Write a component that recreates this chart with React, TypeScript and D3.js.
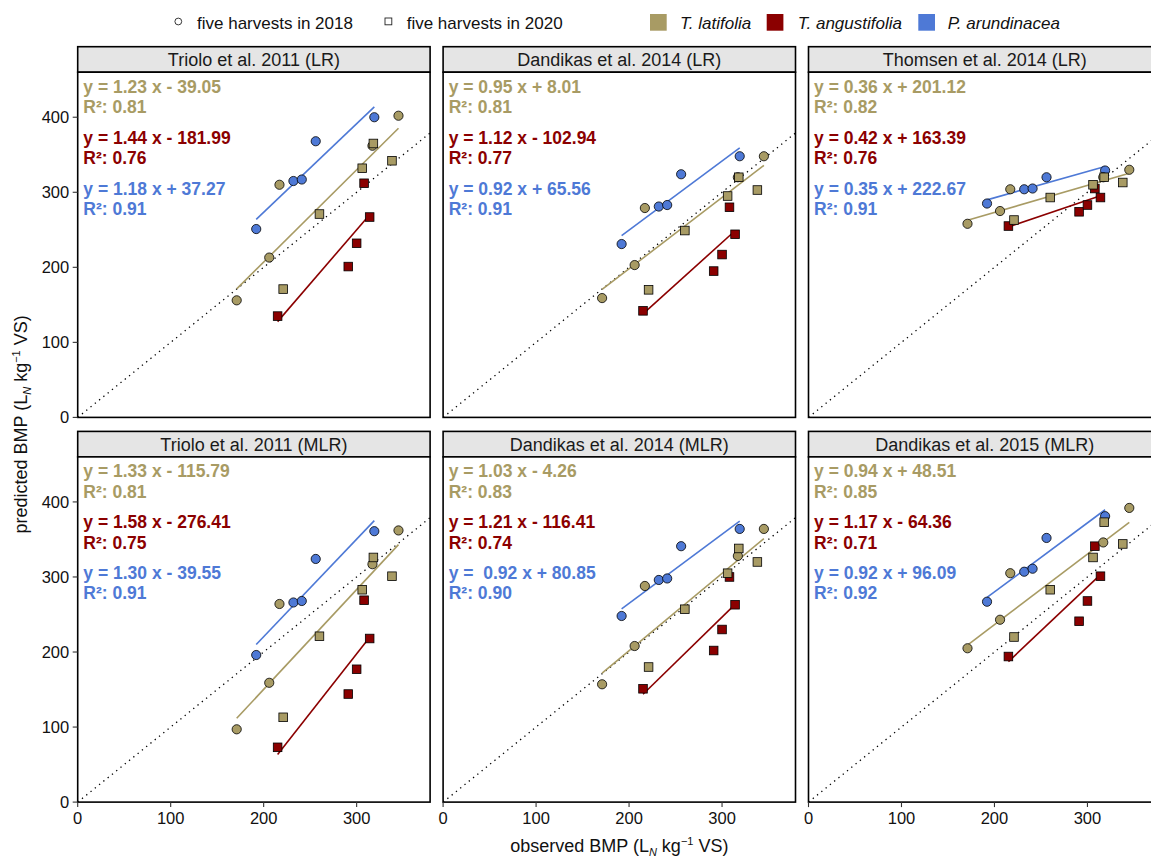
import * as d3 from "d3";

// observed BMP values, shared by all six panels
const OBS_TL_2018 = [171, 206, 217, 317, 345];
const OBS_TL_2020 = [221, 260, 306, 318, 338];
const OBS_TA_2020 = [215, 291, 300, 308, 314];
const OBS_PA_2018 = [192, 232, 241, 256, 319];

const PANEL_TITLES = [
  "Triolo et al. 2011 (LR)",
  "Dandikas et al. 2014 (LR)",
  "Thomsen et al. 2014 (LR)",
  "Triolo et al. 2011 (MLR)",
  "Dandikas et al. 2014 (MLR)",
  "Dandikas et al. 2015 (MLR)",
];

// predicted BMP, one row per panel
const PRED_TL_2018 = [
  [156, 213, 310, 362, 402],
  [159, 203, 279, 320, 348],
  [258, 275, 304, 320, 330],
  [97, 159, 264, 317, 362],
  [157, 208, 288, 328, 364],
  [205, 243, 305, 346, 392],
];
const PRED_TL_2020 = [
  [171, 271, 332, 365, 342],
  [170, 249, 295, 320, 303],
  [263, 293, 310, 320, 313],
  [113, 221, 283, 326, 301],
  [180, 257, 305, 338, 320],
  [220, 283, 326, 373, 344],
];
const PRED_TA_2020 = [
  [135, 201, 232, 312, 267],
  [142, 195, 217, 280, 244],
  [255, 274, 283, 305, 293],
  [73, 144, 177, 269, 218],
  [151, 202, 230, 300, 263],
  [194, 241, 268, 341, 301],
];
const PRED_PA_2018 = [
  [251, 315, 317, 368, 400],
  [231, 281, 283, 324, 348],
  [285, 304, 305, 320, 329],
  [196, 266, 268, 324, 361],
  [248, 296, 298, 341, 364],
  [267, 307, 311, 352, 381],
];

// regression fits [slope, intercept]
const TL_FIT = [[1.23, -39.05], [0.95, 8.01], [0.36, 201.12], [1.33, -115.79], [1.03, -4.26], [0.94, 48.51]];
const TA_FIT = [[1.44, -181.99], [1.12, -102.94], [0.42, 163.39], [1.58, -276.41], [1.21, -116.41], [1.17, -64.36]];
const PA_FIT = [[1.18, 37.27], [0.92, 65.56], [0.35, 222.67], [1.3, -39.55], [0.92, 80.85], [0.92, 96.09]];

const TL_EQ = ["y = 1.23 x - 39.05", "y = 0.95 x + 8.01", "y = 0.36 x + 201.12", "y = 1.33 x - 115.79", "y = 1.03 x - 4.26", "y = 0.94 x + 48.51"];
const TA_EQ = ["y = 1.44 x - 181.99", "y = 1.12 x - 102.94", "y = 0.42 x + 163.39", "y = 1.58 x - 276.41", "y = 1.21 x - 116.41", "y = 1.17 x - 64.36"];
const PA_EQ = ["y = 1.18 x + 37.27", "y = 0.92 x + 65.56", "y = 0.35 x + 222.67", "y = 1.30 x - 39.55", "y =  0.92 x + 80.85", "y = 0.92 x + 96.09"];
const TL_R2 = ["0.81", "0.81", "0.82", "0.81", "0.83", "0.85"];
const TA_R2 = ["0.76", "0.77", "0.76", "0.75", "0.74", "0.71"];
const PA_R2 = ["0.91", "0.91", "0.91", "0.91", "0.90", "0.92"];

const X_TICKS = [0, 100, 200, 300];
const Y_TICKS = [0, 100, 200, 300, 400];

const COL_TL = "#A89B64";
const COL_TA = "#8B0000";
const COL_PA = "#4E79D6";

const FONT = "Liberation Sans, Arial, Helvetica, sans-serif";

const W = 1151;
const H = 857;
const LEFT = 77.7;
const TOP = 46.7;
const PANEL_W = 352.4;
const PANEL_H = 345.2;
const STRIP_H = 25.5;
const GAP_X = 13;
const GAP_Y = 14;

const x = d3.scaleLinear().domain([0, 379]).range([0, PANEL_W]);
const y = d3.scaleLinear().domain([0, 460]).range([PANEL_H, 0]);

const R = 4.6;
const SQ = 8.6;

const Circles = ({ xs, ys, fill }: { xs: number[]; ys: number[]; fill: string }) => (
  <g>
    {xs.map((v, i) => (
      <circle key={i} cx={x(v)} cy={y(ys[i])} r={R} fill={fill} stroke="#000" strokeWidth={0.8} />
    ))}
  </g>
);

const Squares = ({ xs, ys, fill }: { xs: number[]; ys: number[]; fill: string }) => (
  <g>
    {xs.map((v, i) => (
      <rect
        key={i}
        x={x(v) - SQ / 2}
        y={y(ys[i]) - SQ / 2}
        width={SQ}
        height={SQ}
        fill={fill}
        stroke="#000"
        strokeWidth={0.8}
      />
    ))}
  </g>
);

const FitLine = ({ fit, xs, color }: { fit: number[]; xs: number[]; color: string }) => {
  const [lo, hi] = d3.extent(xs) as [number, number];
  const line = d3
    .line<number>()
    .x((d) => x(d))
    .y((d) => y(fit[0] * d + fit[1]));
  return <path d={line([lo, hi]) || ""} stroke={color} strokeWidth={1.6} fill="none" />;
};

const Panel = ({ i }: { i: number }) => {
  const col = i % 3;
  const row = Math.floor(i / 3);
  const px = LEFT + col * (PANEL_W + GAP_X);
  const sy = TOP + row * (STRIP_H + PANEL_H + GAP_Y);
  const py = sy + STRIP_H;
  const tlX = [...OBS_TL_2018, ...OBS_TL_2020];
  const diag = d3.line<number>().x((d) => x(d)).y((d) => y(d));

  const eqs = [
    { t: TL_EQ[i], r: TL_R2[i], c: COL_TL, dy: 20.6 },
    { t: TA_EQ[i], r: TA_R2[i], c: COL_TA, dy: 71.6 },
    { t: PA_EQ[i], r: PA_R2[i], c: COL_PA, dy: 122.4 },
  ];

  return (
    <g>
      {/* strip */}
      <rect x={px} y={sy} width={PANEL_W} height={STRIP_H} fill="#E5E5E5" stroke="#000" strokeWidth={1.6} />
      <text
        x={px + PANEL_W / 2}
        y={sy + STRIP_H / 2 + 6.5}
        textAnchor="middle"
        fontSize={18}
        fill="#1a1a1a"
      >
        {PANEL_TITLES[i]}
      </text>

      <g transform={`translate(${px},${py})`}>
        <rect x={0} y={0} width={PANEL_W} height={PANEL_H} fill="#fff" />
        <path d={diag([0, 379]) || ""} stroke="#000" strokeWidth={1.3} strokeDasharray="1.3 4.2" fill="none" />

        <FitLine fit={TL_FIT[i]} xs={tlX} color={COL_TL} />
        <FitLine fit={TA_FIT[i]} xs={OBS_TA_2020} color={COL_TA} />
        <FitLine fit={PA_FIT[i]} xs={OBS_PA_2018} color={COL_PA} />

        <Circles xs={OBS_PA_2018} ys={PRED_PA_2018[i]} fill={COL_PA} />
        <Squares xs={OBS_TA_2020} ys={PRED_TA_2020[i]} fill={COL_TA} />
        <Circles xs={OBS_TL_2018} ys={PRED_TL_2018[i]} fill={COL_TL} />
        <Squares xs={OBS_TL_2020} ys={PRED_TL_2020[i]} fill={COL_TL} />

        {eqs.map((e, k) => (
          <g key={k} fill={e.c} fontWeight="bold" fontSize={17.5}>
            <text x={5.6} y={e.dy} style={{ whiteSpace: "pre" }}>
              {e.t}
            </text>
            <text x={5.6} y={e.dy + 20.1}>{`R²: ${e.r}`}</text>
          </g>
        ))}

        <rect x={0} y={0} width={PANEL_W} height={PANEL_H} fill="none" stroke="#000" strokeWidth={1.6} />

        {/* y axis on left column */}
        {col === 0 &&
          Y_TICKS.map((t) => (
            <g key={t} transform={`translate(0,${y(t)})`}>
              <line x1={-5} x2={0} stroke="#333" strokeWidth={1.1} />
              <text x={-8.5} y={6} textAnchor="end" fontSize={16.5} fill="#111">
                {t}
              </text>
            </g>
          ))}

        {/* x axis on bottom row */}
        {row === 1 &&
          X_TICKS.map((t) => (
            <g key={t} transform={`translate(${x(t)},${PANEL_H})`}>
              <line y1={0} y2={5} stroke="#333" strokeWidth={1.1} />
              <text y={21.5} textAnchor="middle" fontSize={16.5} fill="#111">
                {t}
              </text>
            </g>
          ))}
      </g>
    </g>
  );
};

const Legend = () => {
  const species = [
    { label: "T. latifolia", c: COL_TL, kx: 650, tx: 680 },
    { label: "T. angustifolia", c: COL_TA, kx: 766.7, tx: 797.7 },
    { label: "P. arundinacea", c: COL_PA, kx: 918.3, tx: 947.7 },
  ];
  return (
    <g fontSize={17}>
      <circle cx={178.3} cy={21.5} r={3.4} fill="none" stroke="#222" strokeWidth={0.9} />
      <text x={197} y={28.5} fill="#111">five harvests in 2018</text>
      <rect x={385} y={18} width={6.8} height={6.8} fill="none" stroke="#222" strokeWidth={0.9} />
      <text x={406.7} y={28.5} fill="#111">five harvests in 2020</text>
      {species.map((s) => (
        <g key={s.label}>
          <rect x={s.kx} y={14} width={16.7} height={16.7} fill={s.c} />
          <text x={s.tx} y={28.5} fontStyle="italic" fill="#111">
            {s.label}
          </text>
        </g>
      ))}
    </g>
  );
};

export default function App() {
  const midX = LEFT + (3 * PANEL_W + 2 * GAP_X) / 2;
  const midY = TOP + (2 * (STRIP_H + PANEL_H) + GAP_Y) / 2;
  return (
    <svg
      width={W}
      height={H}
      viewBox={`0 0 ${W} ${H}`}
      fontFamily={FONT}
      style={{ position: "absolute", left: 0, top: 0, display: "block", background: "#fff" }}
    >
      <rect width={W} height={H} fill="#fff" />
      <Legend />
      {PANEL_TITLES.map((_, i) => (
        <Panel key={i} i={i} />
      ))}
      <text x={midX} y={852} textAnchor="middle" fontSize={18} fill="#111">
        observed BMP (L
        <tspan fontSize={11} fontStyle="italic" dy={4}>N</tspan>
        <tspan dy={-4}> kg</tspan>
        <tspan fontSize={11} dy={-7}>−1</tspan>
        <tspan dy={7}> VS)</tspan>
      </text>
      <text
        transform={`translate(27,${midY}) rotate(-90)`}
        textAnchor="middle"
        fontSize={18}
        fill="#111"
      >
        predicted BMP (L
        <tspan fontSize={11} fontStyle="italic" dy={4}>N</tspan>
        <tspan dy={-4}> kg</tspan>
        <tspan fontSize={11} dy={-7}>−1</tspan>
        <tspan dy={7}> VS)</tspan>
      </text>
    </svg>
  );
}
